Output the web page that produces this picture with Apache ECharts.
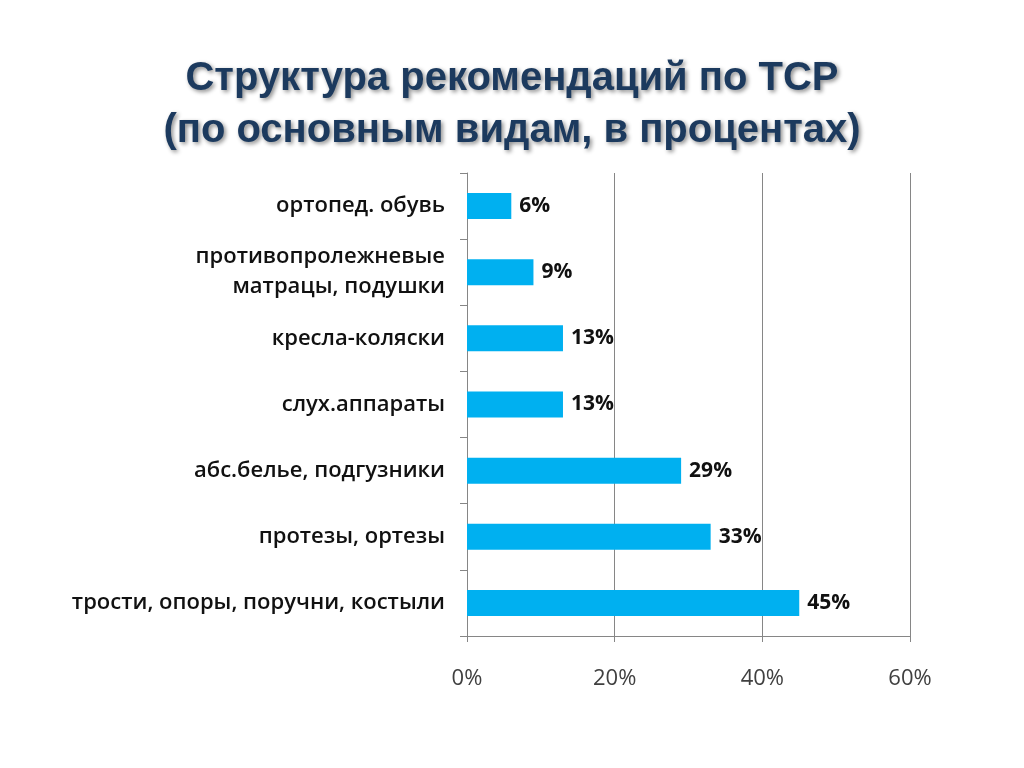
<!DOCTYPE html>
<html>
<head>
<meta charset="utf-8">
<script src="https://cdn.jsdelivr.net/npm/echarts@6/dist/echarts.min.js"></script>
<style>
  html, body { margin: 0; padding: 0; background: #fff; }
  #chart { width: 1024px; height: 768px; }
</style>
</head>
<body>
<div id="chart"></div>
<script>
// данные
var categories = [
    'ортопед. обувь',
    'противопролежневые\nматрацы, подушки',
    'кресла-коляски',
    'слух.аппараты',
    'абс.белье, подгузники',
    'протезы, ортезы',
    'трости, опоры, поручни, костыли'
];
var values = [6, 9, 13, 13, 29, 33, 45];
var xTicks = [0, 20, 40, 60];

var chart = echarts.init(document.getElementById('chart'));

chart.setOption({
    animation: false,
    title: {
        text: 'Структура рекомендаций по ТСР\n(по основным видам, в процентах)',
        left: 'center',
        top: 48,
        textStyle: {
            fontFamily: 'Liberation Sans',
            fontWeight: 'bold',
            fontSize: 40,
            lineHeight: 52,
            color: '#1c3a5e',
            textShadowColor: 'rgba(0,0,0,0.45)',
            textShadowBlur: 4,
            textShadowOffsetX: 2,
            textShadowOffsetY: 2
        }
    },
    grid: { left: 467, right: 114, top: 173, bottom: 132, containLabel: false },
    xAxis: {
        type: 'value',
        min: xTicks[0],
        max: xTicks[xTicks.length - 1],
        interval: 20,
        axisLine: { show: true, lineStyle: { color: '#868686' } },
        axisTick: { show: true, length: 6, lineStyle: { color: '#868686' } },
        splitLine: { show: true, lineStyle: { color: '#868686' } },
        axisLabel: {
            formatter: '{value}%',
            margin: 32,
            fontFamily: 'Open Sans',
            fontSize: 22,
            color: '#404040'
        }
    },
    yAxis: {
        type: 'category',
        data: categories,
        inverse: true,
        axisLine: { show: true, lineStyle: { color: '#868686' } },
        axisTick: { show: true, length: 7, lineStyle: { color: '#868686' } },
        axisLabel: {
            margin: 22,
            fontFamily: 'Open Sans',
            fontWeight: 600,
            fontSize: 22,
            lineHeight: 30,
            color: '#111',
            align: 'right'
        }
    },
    series: [{
        type: 'bar',
        data: values,
        barWidth: 26,
        itemStyle: { color: '#00b0f0' },
        label: {
            show: true,
            position: 'right',
            distance: 8,
            formatter: '{c}%',
            fontFamily: 'Open Sans',
            fontWeight: 'bold',
            fontSize: 21,
            color: '#111'
        }
    }]
});
</script>
</body>
</html>
